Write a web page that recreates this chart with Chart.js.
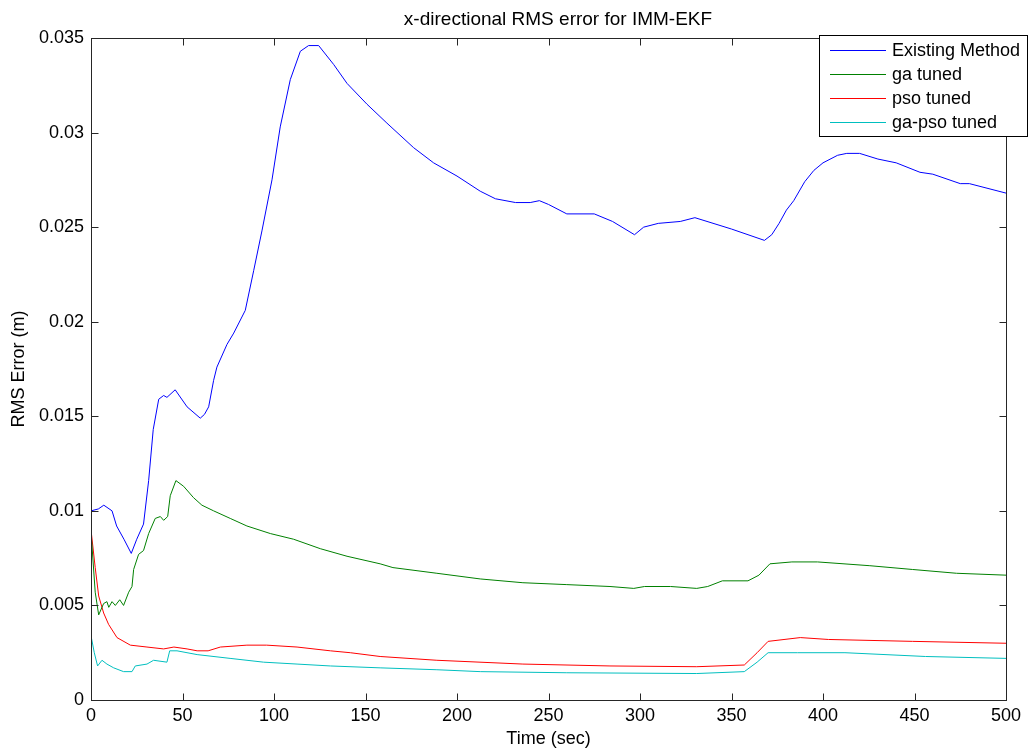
<!DOCTYPE html>
<html>
<head>
<meta charset="utf-8">
<script src="https://cdn.jsdelivr.net/npm/chart.js@4/dist/chart.umd.min.js"></script>
<style>
  html, body { margin: 0; padding: 0; background: #fff; }
</style>
</head>
<body>
<canvas id="rms-chart" width="1029" height="755"></canvas>
<script>
// values
const chartTitle = "x-directional RMS error for IMM-EKF";
const xTicks = [0, 50, 100, 150, 200, 250, 300, 350, 400, 450, 500];
const yTicks = [0, 0.005, 0.01, 0.015, 0.02, 0.025, 0.03, 0.035];
const yTickLabels = ["0", "0.005", "0.01", "0.015", "0.02", "0.025", "0.03", "0.035"];

const seriesNames = ["Existing Method", "ga tuned", "pso tuned", "ga-pso tuned"];
const seriesColors = ["#0000ff", "#008000", "#ff0000", "#00bfbf"];

const existingTime = [0, 4, 7, 11.5, 14, 18, 22, 25, 28.7, 31.5, 34, 37, 39.7, 41.5, 46, 52.5, 59.7, 62, 64.3, 67,
  68.8, 74.3, 78, 84.3, 88.9, 93.4, 98.9, 103.4, 108.9, 114.4, 118.9, 124.4, 132.6, 139.9, 150.8, 161.7, 176.3,
  187.2, 200, 212.7, 221, 232, 240, 245, 250, 260, 275, 285, 297, 302, 310, 322, 330, 350, 368, 372, 376, 380,
  384, 390, 395, 400, 408, 413, 420, 430, 440, 453, 460, 475, 480, 500];
const existingRms = [0.0100, 0.0101, 0.0103, 0.0100, 0.0092, 0.0085, 0.00775, 0.0085, 0.0093, 0.0116, 0.0143,
  0.0159, 0.0161, 0.0160, 0.0164, 0.0155, 0.0149, 0.0151, 0.0155, 0.0169, 0.0176, 0.0188, 0.0194, 0.0206, 0.0227,
  0.0248, 0.0275, 0.0303, 0.0328, 0.0343, 0.0346, 0.0346, 0.0336, 0.0326, 0.0315, 0.0305, 0.0292, 0.0284, 0.0277,
  0.0269, 0.0265, 0.0263, 0.0263, 0.0264, 0.0262, 0.0257, 0.0257, 0.0253, 0.0246, 0.0250, 0.0252, 0.0253, 0.0255,
  0.0249, 0.0243, 0.0246, 0.0252, 0.0259, 0.0264, 0.0274, 0.0280, 0.0284, 0.0288, 0.0289, 0.0289, 0.0286, 0.0284,
  0.0279, 0.0278, 0.0273, 0.0273, 0.0268];

const gaTime = [0, 2.3, 4.2, 6.9, 8.7, 9.7, 11.5, 13.3, 15.7, 17.8, 20.6, 22.4, 23.3, 26, 28.7, 31.5, 35.1, 37.9,
  39.7, 41.9, 43.3, 46.4, 50.6, 56, 60.6, 67, 76.1, 85.2, 98, 110.7, 125.3, 139.9, 158, 165, 189, 212.7, 236, 260,
  283.6, 296.6, 302.5, 316.7, 331, 337, 345, 359, 365, 371, 383, 397, 425.6, 449, 473, 500];
const gaRms = [0.0089, 0.0057, 0.0045, 0.0051, 0.0052, 0.0049, 0.0052, 0.0050, 0.0053, 0.0050, 0.0057, 0.0060,
  0.0069, 0.0077, 0.0079, 0.0088, 0.0096, 0.0097, 0.0095, 0.0097, 0.0108, 0.0116, 0.0113, 0.0107, 0.0103, 0.0100,
  0.0096, 0.0092, 0.0088, 0.0085, 0.0080, 0.0076, 0.0072, 0.0070, 0.0067, 0.0064, 0.0062, 0.0061, 0.0060, 0.0059,
  0.0060, 0.0060, 0.0059, 0.0060, 0.0063, 0.0063, 0.0066, 0.0072, 0.0073, 0.0073, 0.0071, 0.0069, 0.0067, 0.0066];

const psoTime = [0, 2.3, 4.2, 6.9, 9.6, 14.2, 21.5, 30.6, 39.7, 45.3, 52.5, 58, 64, 70.7, 85.2, 96, 112.6, 130.8,
  141.7, 158, 189, 236, 283.6, 331, 357, 364, 370, 387.6, 403, 449, 500];
const psoRms = [0.0090, 0.0070, 0.0055, 0.0046, 0.0040, 0.0033, 0.0029, 0.0028, 0.0027, 0.0028, 0.0027, 0.0026,
  0.0026, 0.0028, 0.0029, 0.0029, 0.0028, 0.0026, 0.0025, 0.0023, 0.0021, 0.0019, 0.0018, 0.00176, 0.00185,
  0.0025, 0.0031, 0.0033, 0.0032, 0.0031, 0.0030];

const gaPsoTime = [0, 1.8, 3.6, 6, 8.7, 12.4, 17.8, 22.4, 24.2, 30.6, 34.2, 41.5, 43, 47, 58, 76, 94.3, 112.6,
  130.8, 158, 189, 212.7, 260, 331, 357, 364, 370, 386, 412, 456, 500];
const gaPsoRms = [0.0034, 0.0025, 0.0018, 0.0021, 0.0019, 0.0017, 0.0015, 0.0015, 0.0018, 0.0019, 0.0021, 0.0020,
  0.0026, 0.0026, 0.0024, 0.0022, 0.0020, 0.0019, 0.0018, 0.0017, 0.0016, 0.0015, 0.00144, 0.0014, 0.0015,
  0.0020, 0.0025, 0.0025, 0.0025, 0.0023, 0.0022];

const FONT = "'Liberation Sans', Arial, sans-serif";

function toPoints(times, values) {
  return times.map((t, i) => ({ x: t, y: values[i] }));
}

const allSeries = [
  toPoints(existingTime, existingRms),
  toPoints(gaTime, gaRms),
  toPoints(psoTime, psoRms),
  toPoints(gaPsoTime, gaPsoRms),
];

// matlab style box, inward ticks, title and legend
const matlabAxes = {
  id: "matlabAxes",
  afterDatasetsDraw(chart) {
    const { ctx, chartArea: a, scales } = chart;
    const L = Math.round(a.left) + 0.5, R = Math.round(a.right) + 0.5;
    const T = Math.round(a.top) + 0.5, B = Math.round(a.bottom) + 0.5;
    ctx.save();
    ctx.strokeStyle = "#262626";
    ctx.lineWidth = 1;
    ctx.strokeRect(L, T, R - L, B - T);
    const len = 7;
    ctx.beginPath();
    xTicks.forEach((v) => {
      const px = Math.round(scales.x.getPixelForValue(v)) + 0.5;
      ctx.moveTo(px, B); ctx.lineTo(px, B - len);
      ctx.moveTo(px, T); ctx.lineTo(px, T + len);
    });
    yTicks.forEach((v) => {
      const py = Math.round(scales.y.getPixelForValue(v)) + 0.5;
      ctx.moveTo(L, py); ctx.lineTo(L + len, py);
      ctx.moveTo(R, py); ctx.lineTo(R - len, py);
    });
    ctx.stroke();

    ctx.fillStyle = "#000";
    ctx.font = "19px " + FONT;
    ctx.textAlign = "center";
    ctx.textBaseline = "middle";
    ctx.fillText(chartTitle, 558, 20);
    ctx.restore();
  },
  afterDraw(chart) {
    const ctx = chart.ctx;
    const boxX = 819.5, boxY = 35.5, boxW = 208, boxH = 101;
    ctx.save();
    ctx.fillStyle = "#fff";
    ctx.fillRect(boxX, boxY, boxW, boxH);
    ctx.strokeStyle = "#000";
    ctx.lineWidth = 1;
    ctx.strokeRect(boxX, boxY, boxW, boxH);
    ctx.font = "18px " + FONT;
    ctx.textBaseline = "middle";
    ctx.textAlign = "left";
    chart.data.datasets.forEach((ds, i) => {
      const y = 50.5 + i * 24;
      ctx.strokeStyle = ds.borderColor;
      ctx.beginPath();
      ctx.moveTo(830, y);
      ctx.lineTo(886, y);
      ctx.stroke();
      ctx.fillStyle = "#000";
      ctx.fillText(ds.label, 892, y + 1);
    });
    ctx.restore();
  },
};

Chart.defaults.font.family = FONT;
Chart.defaults.color = "#000";

const ctx = document.getElementById("rms-chart");

new Chart(ctx, {
  type: "line",
  data: {
    datasets: allSeries.map((pts, i) => ({
      label: seriesNames[i],
      data: pts,
      borderColor: seriesColors[i],
      borderWidth: 1,
      pointRadius: 0,
      fill: false,
      tension: 0,
    })),
  },
  options: {
    responsive: false,
    animation: false,
    layout: { padding: { left: 0, right: 23, top: 38, bottom: 0 } },
    plugins: {
      legend: { display: false },
      tooltip: { enabled: false },
      title: { display: false },
    },
    scales: {
      x: {
        type: "linear",
        min: 0,
        max: 500,
        afterBuildTicks: (s) => { s.ticks = xTicks.map((v) => ({ value: v })); },
        afterFit: (s) => { s.height = 55; },
        ticks: { font: { size: 18 }, padding: 5, maxRotation: 0, callback: (v) => String(v) },
        grid: { display: false, drawTicks: false },
        border: { display: false },
        title: { display: true, text: "Time (sec)", font: { size: 18 }, padding: { top: 0, bottom: 5 } },
      },
      y: {
        type: "linear",
        min: 0,
        max: 0.035,
        afterBuildTicks: (s) => { s.ticks = yTicks.map((v) => ({ value: v })); },
        afterFit: (s) => { s.width = 91; },
        ticks: { font: { size: 18 }, padding: 7, callback: (v, i) => yTickLabels[i] },
        grid: { display: false, drawTicks: false },
        border: { display: false },
        title: { display: true, text: "RMS Error (m)", font: { size: 18 }, padding: { top: 8, bottom: 0 } },
      },
    },
  },
  plugins: [matlabAxes],
});
</script>
</body>
</html>
